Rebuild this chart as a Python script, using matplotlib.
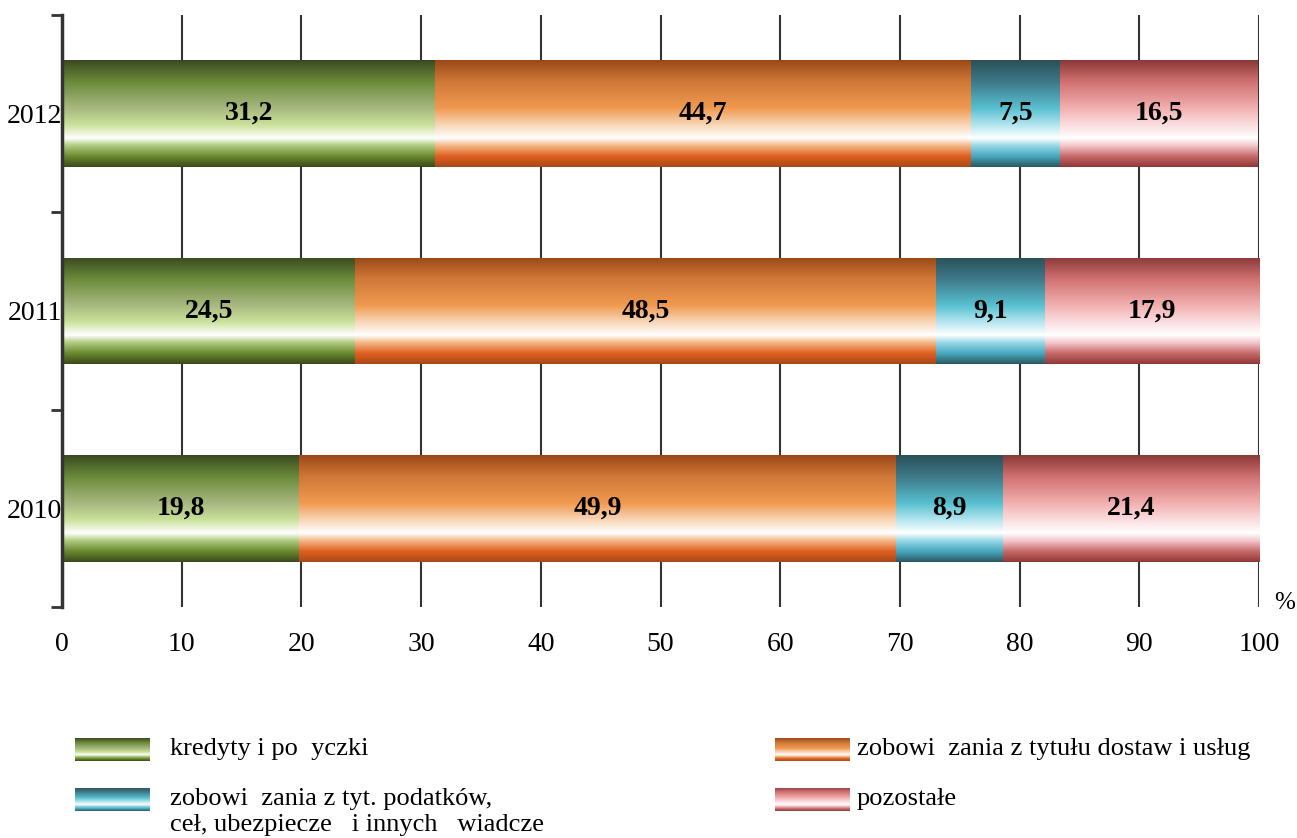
import matplotlib
matplotlib.use("Agg")
import matplotlib.pyplot as plt
import numpy as np
from matplotlib.colors import LinearSegmentedColormap

plt.rcParams['font.family'] = ['Liberation Serif', 'DejaVu Serif']

years = ['2010', '2011', '2012']
kredyty = [19.8, 24.5, 31.2]
dostawy = [49.9, 48.5, 44.7]
podatki = [8.9, 9.1, 7.5]
pozostale = [21.4, 17.9, 16.5]

series = [kredyty, dostawy, podatki, pozostale]
labels = ['kredyty i po  yczki',
          'zobowi  zania z tytułu dostaw i usług',
          'zobowi  zania z tyt. podatków,\nceł, ubezpiecze   i innych   wiadcze',
          'pozostałe']

# gradient stops, from bottom (0) to top (1) of the bar
stops = [0.0, 0.1, 0.2, 0.27, 0.4, 0.55, 0.8, 1.0]
grad_cols = [
    ['#3a4a1a', '#6a8a30', '#b0cc80', '#ffffff', '#c8e098', '#a8b880', '#6a8a3a', '#3a4a20'],
    ['#a84818', '#e06020', '#f4b888', '#ffffff', '#f8d4b4', '#f09a50', '#d07838', '#9a4818'],
    ['#2a5860', '#48a8c0', '#98d8e6', '#ffffff', '#b0e4ee', '#58c0d0', '#3e7888', '#2a5058'],
    ['#903838', '#c86a6a', '#f4c8cc', '#ffffff', '#fadcde', '#f2b0b0', '#d07070', '#8a3838'],
]
cmaps = [LinearSegmentedColormap.from_list('g%d' % i, list(zip(stops, c)))
         for i, c in enumerate(grad_cols)]
grad = np.linspace(0, 1, 256).reshape(-1, 1)

fig = plt.figure(figsize=(12.97, 8.38), dpi=100)
ax = fig.add_axes([62/1297, 1-607/838, (1259-62)/1297, (607-15)/838])

y = np.arange(len(years))
height = 0.54
left = np.zeros(len(years))
for vals, cmap in zip(series, cmaps):
    bars = ax.barh(y, vals, height, left=left, color='none', edgecolor='none', zorder=3)
    for b, v in zip(bars, vals):
        x0, y0 = b.get_x(), b.get_y()
        im = ax.imshow(grad, extent=[x0, x0 + b.get_width(), y0, y0 + b.get_height()],
                       aspect='auto', cmap=cmap, origin='lower', zorder=2,
                       interpolation='bilinear')
        im.set_clip_path(b)
        ax.text(x0 + b.get_width()/2, y0 + b.get_height()/2, ('%.1f' % v).replace('.', ','),
                ha='center', va='center', fontsize=20, fontweight='bold', zorder=4)
    left = left + np.array(vals)

ax.set_xlim(0, 100)
ax.set_ylim(-0.5, len(years) - 0.5)

for xv in range(10, 101, 10):
    ax.axvline(xv, color='#333333', lw=1.5, zorder=1)

for s in ['top', 'right', 'bottom']:
    ax.spines[s].set_visible(False)
ax.spines['left'].set_linewidth(2.5)
ax.spines['left'].set_color('#333333')
ax.spines['left'].set_zorder(5)

ax.set_xticks(range(0, 101, 10))
ax.tick_params(axis='x', length=0, pad=18, labelsize=20)
ax.set_yticks(np.arange(-0.5, len(years), 1.0))
ax.set_yticklabels([])
ax.tick_params(axis='y', which='major', length=8, width=2, color='#333333')
ax.set_yticks(y, minor=True)
ax.set_yticklabels(years, minor=True)
ax.tick_params(axis='y', which='minor', length=0, pad=0, labelsize=20)

fig.text(1285/1297, 1-603/838, '%', fontsize=18, ha='center', va='center')

# legend
leg_pos = [(75, 738), (775, 738), (75, 788), (775, 788)]
text_x = [170, 857, 170, 857]
for (px, py), tx, cmap, lab in zip(leg_pos, text_x, cmaps, labels):
    lax = fig.add_axes([px/1297, 1-(py+23)/838, 75/1297, 23/838])
    lax.imshow(grad, aspect='auto', cmap=cmap, origin='lower', interpolation='bilinear')
    lax.axis('off')
    for k, line in enumerate(lab.split('\n')):
        fig.text(tx/1297, 1-(py+17+26*k)/838, line, fontsize=19, ha='left', va='baseline')

plt.savefig('out.png')
